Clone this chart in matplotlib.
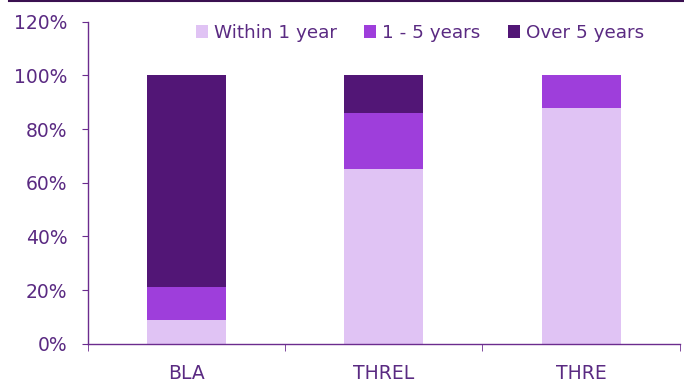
import numpy as np
import matplotlib.pyplot as plt
from matplotlib.lines import Line2D
from matplotlib.ticker import FuncFormatter, FixedLocator

# Data
categories = ['BLA', 'THREL', 'THRE']
within_1_year = [9, 65, 88]
one_to_5_years = [12, 21, 12]
over_5_years = [79, 14, 0]
series_names = ['Within 1 year', '1 - 5 years', 'Over 5 years']

colors = ['#E0C3F4', '#9E3EDB', '#521676']
text_col = '#5A2A82'
axis_col = '#6B2C8E'

plt.rcParams['font.family'] = ['DejaVu Sans']

fig = plt.figure(figsize=(6.84, 3.83), dpi=100)
ax = fig.add_axes([0.1287, 0.1026, 0.865, 0.8407])

x = np.arange(len(categories))
bottom = np.zeros(len(categories))
for vals, name, c in zip([within_1_year, one_to_5_years, over_5_years], series_names, colors):
    ax.bar(x, vals, width=0.4, bottom=bottom, color=c, label=name)
    bottom += np.array(vals)

ax.set_xlim(-0.5, len(categories) - 0.5)
ax.set_ylim(0, 120)
ax.set_yticks(np.arange(0, 121, 20))
ax.yaxis.set_major_formatter(FuncFormatter(lambda v, p: f'{int(v)}%'))
ax.set_xticks(x)
ax.set_xticklabels(categories)
ax.xaxis.set_minor_locator(FixedLocator(np.arange(-0.5, len(categories), 1.0)))

for s in ['top', 'right']:
    ax.spines[s].set_visible(False)
for s in ['left', 'bottom']:
    ax.spines[s].set_color(axis_col)
    ax.spines[s].set_linewidth(1.0)

ax.tick_params(axis='y', colors=axis_col, labelcolor=text_col, labelsize=13.5,
               length=4.5, pad=10.5, direction='out')
ax.tick_params(axis='x', which='major', length=0, labelcolor=text_col, labelsize=13.5, pad=14.5)
ax.tick_params(axis='x', which='minor', length=5, color=axis_col, direction='out')

ax.legend(loc='center right', bbox_to_anchor=(644 / 684, 1 - 33 / 383),
          bbox_transform=fig.transFigure, ncol=3, frameon=False,
          fontsize=13.2, labelcolor=text_col, handlelength=0.65, handleheight=0.65,
          handletextpad=0.33, columnspacing=1.5, borderpad=0, borderaxespad=0)

fig.add_artist(Line2D([0.013, 1], [0.998, 0.998], color='#3A1050', linewidth=1.5,
                      transform=fig.transFigure))

fig.savefig('out.png', dpi=100)
